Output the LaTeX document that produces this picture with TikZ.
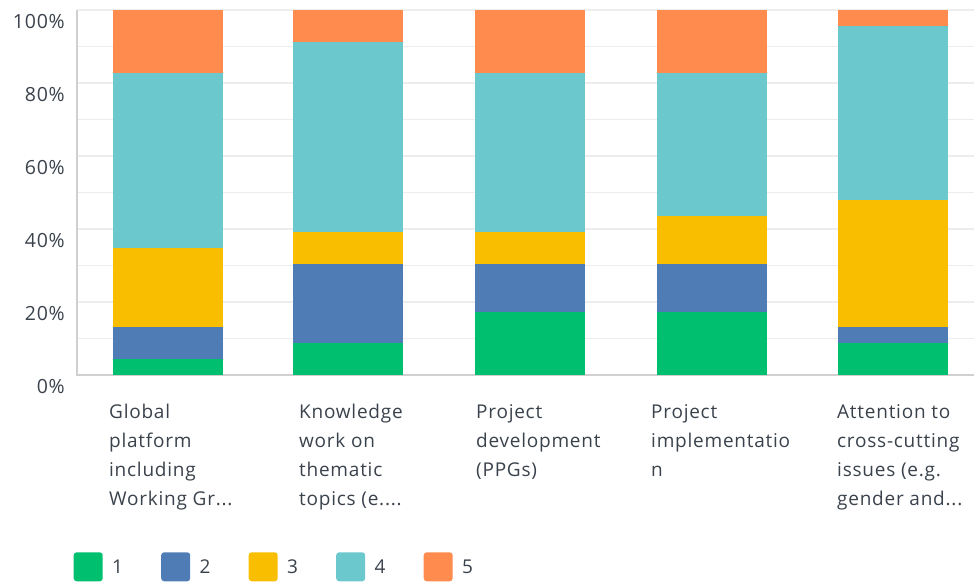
\documentclass[tikz,border=0pt]{standalone}
\usepackage{fontspec}
\setmainfont{Open Sans}[LetterSpace=4]
\definecolor{cone}{HTML}{00BF6F}
\definecolor{ctwo}{HTML}{507CB6}
\definecolor{cthree}{HTML}{F9BE00}
\definecolor{cfour}{HTML}{6BC8CD}
\definecolor{cfive}{HTML}{FF8B4F}
\definecolor{txt}{HTML}{3A424C}
\definecolor{gridgray}{HTML}{EDEDED}
\definecolor{axisgray}{HTML}{D0D0D0}
\tikzset{
  gridline/.style={draw=gridgray, line width=1.5pt},
  axisline/.style={draw=axisgray, line width=1.5pt},
  ticklabel/.style={anchor=east, text=txt, inner sep=0pt, font=\fontsize{19.5}{22}\selectfont},
  catlabel/.style={anchor=north west, align=left, text=txt, inner sep=0pt, font=\fontsize{19}{29}\selectfont},
  legbox/.style={rounded corners=3pt, minimum size=29pt, inner sep=0pt, anchor=south west},
  leglabel/.style={anchor=west, text=txt, inner sep=0pt, font=\fontsize{19}{22}\selectfont}
}
\begin{document}
\begin{tikzpicture}[x=1pt,y=1pt]
  \useasboundingbox (0,0) rectangle (974,582);
  \def\u{15.8696}
  % grid and axes
  \foreach \k in {1,...,10}
    \draw[gridline] (77,{207+36.5*\k}) -- (974,{207+36.5*\k});
  \draw[axisline] (77,572) -- (77,207) -- (974,207);
  \foreach \p in {0,20,...,100}
    \node[ticklabel] (tick\p) at (65,{195+3.65*\p}) {\p\%};
  % stacked bars, counts out of 23
  \foreach \n/\x/\a/\b/\c/\d/\e in {1/113/1/2/5/11/4, 2/293/2/5/2/12/2, 3/475/4/3/2/10/4, 4/657/4/3/3/9/4, 5/838/2/1/8/11/1}{
    \fill[cone] (\x,207) rectangle ++(110,{\u*\a});
    \fill[ctwo] (\x,{207+\u*\a}) rectangle ++(110,{\u*\b});
    \fill[cthree] (\x,{207+\u*(\a+\b)}) rectangle ++(110,{\u*\c});
    \fill[cfour] (\x,{207+\u*(\a+\b+\c)}) rectangle ++(110,{\u*\d});
    \fill[cfive] (\x,{207+\u*(\a+\b+\c+\d)}) rectangle (\x+110,572);
  }
  % category labels
  \node[catlabel] (cat1) at (109,178) {Global\\platform\\including\\Working Gr...};
  \node[catlabel] (cat2) at (299,178) {Knowledge\\work on\\thematic\\topics (e....};
  \node[catlabel] (cat3) at (476,178) {Project\\development\\(PPGs)};
  \node[catlabel] (cat4) at (651,178) {Project\\implementatio\\n};
  \node[catlabel] (cat5) at (837,178) {Attention to\\cross-cutting\\issues (e.g.\\gender and...};
  % legend
  \foreach \k/\col in {1/cone, 2/ctwo, 3/cthree, 4/cfour, 5/cfive}{
    \node[legbox, fill=\col] (key\k) at ({73.5+87.5*(\k-1)},0.5) {};
    \node[leglabel] (lab\k) at ([xshift=9pt]key\k.east) {\k};
  }
\end{tikzpicture}
\end{document}
